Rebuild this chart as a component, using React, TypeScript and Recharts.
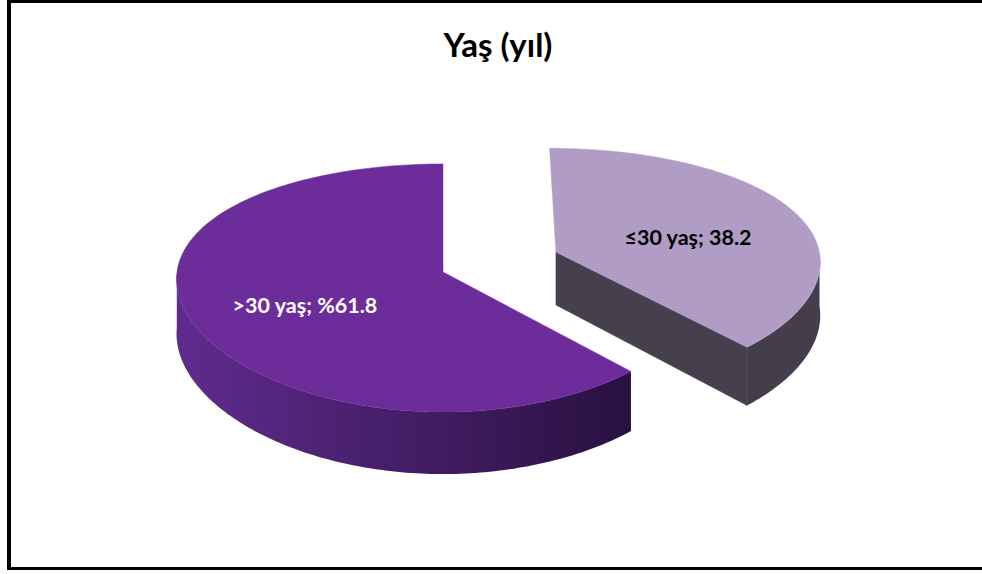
import React from 'react';
import { PieChart, Pie, Cell } from 'recharts';

// Age groups and their shares
const categories = ['≤30 yaş', '>30 yaş'];
const shares = [38.2, 61.8];
const valuePrefixes = ['', '%'];

const data = categories.map((name, i) => ({ name, value: shares[i] }));

// Colours per slice
const topColors = ['#B09CC4', '#6C2D9B'];
const wallStops = [
  ['#4C4655', '#443E4C'],
  ['#602B8E', '#291140'],
];
const cutColors = ['#46404E', '#3A1A55'];
const labelColors = ['#000000', '#FFFFFF'];
const explode = [0.46, 0];

// Pseudo-3D projection settings (fractions of the outer radius)
const RY_RATIO = 0.4586;
const DEPTH_RATIO = 0.203;
const KX = 0.06;
const KY = 0.129;

const RAD = Math.PI / 180;

type Pt = [number, number];

function makeProjector(cx: number, cy: number, R: number, midAngle: number, index: number) {
  const e = explode[index] || 0;
  const eu = e * Math.cos(midAngle * RAD);
  const ev = e * Math.sin(midAngle * RAD);
  return (angleDeg: number, r: number, h: number): Pt => {
    const u = eu + r * Math.cos(angleDeg * RAD);
    const v = ev + r * Math.sin(angleDeg * RAD);
    const fx = 1 / (1 + KX * v);
    const fy = 1 / (1 + KY * v);
    return [cx + R * u * fx, cy - R * RY_RATIO * v * fy + h * R * DEPTH_RATIO * fy];
  };
}

const toPath = (pts: Pt[]) =>
  pts.map((p, i) => `${i === 0 ? 'M' : 'L'}${p[0].toFixed(2)},${p[1].toFixed(2)}`).join(' ') + ' Z';

function Slice3D(props: any) {
  const { cx, cy, outerRadius, startAngle, endAngle, index } = props;
  const R = outerRadius;
  const lo = Math.min(startAngle, endAngle);
  const hi = Math.max(startAngle, endAngle);
  const mid = (lo + hi) / 2;
  const P = makeProjector(cx, cy, R, mid, index);

  // sampled angles along the rim
  const n = Math.max(8, Math.ceil((hi - lo) / 1));
  const angles: number[] = [];
  for (let i = 0; i <= n; i++) angles.push(hi - ((hi - lo) * i) / n);

  // top face
  const top: Pt[] = [P(0, 0, 0), ...angles.map((a) => P(a, 1, 0))];

  // front-facing runs of the outer wall
  const runs: number[][] = [];
  let cur: number[] = [];
  angles.forEach((a) => {
    if (Math.sin(a * RAD) <= 1e-9) cur.push(a);
    else {
      if (cur.length > 1) runs.push(cur);
      cur = [];
    }
  });
  if (cur.length > 1) runs.push(cur);

  const gradId = `pie-wall-${index}`;
  const stops = wallStops[index];

  const cutFaces: Pt[][] = [];
  if (Math.cos(hi * RAD) < -1e-6) cutFaces.push([P(0, 0, 0), P(hi, 1, 0), P(hi, 1, 1), P(0, 0, 1)]);
  if (Math.cos(lo * RAD) > 1e-6) cutFaces.push([P(0, 0, 0), P(lo, 1, 0), P(lo, 1, 1), P(0, 0, 1)]);

  return (
    <g>
      <defs>
        <linearGradient id={gradId} gradientUnits="userSpaceOnUse" x1={cx - R} y1={0} x2={cx + R * 0.7} y2={0}>
          <stop offset="0%" stopColor={stops[0]} />
          <stop offset="100%" stopColor={stops[1]} />
        </linearGradient>
      </defs>
      {cutFaces.map((f, i) => (
        <path key={`cut-${i}`} d={toPath(f)} fill={cutColors[index]} stroke={cutColors[index]} strokeWidth={0.5} />
      ))}
      {runs.map((run, i) => {
        const pts = [...run.map((a) => P(a, 1, 0)), ...run.slice().reverse().map((a) => P(a, 1, 1))];
        return <path key={`wall-${i}`} d={toPath(pts)} fill={`url(#${gradId})`} stroke="none" />;
      })}
      <path d={toPath(top)} fill={topColors[index]} stroke={topColors[index]} strokeWidth={0.5} />
    </g>
  );
}

function SliceLabel(props: any) {
  const { cx, cy, outerRadius, midAngle, index } = props;
  const P = makeProjector(cx, cy, outerRadius, midAngle, index);
  const [x, y] = P(midAngle, 0.55, 0.15);
  return (
    <text
      x={x}
      y={y}
      textAnchor="middle"
      dominantBaseline="central"
      fill={labelColors[index]}
      fontFamily="Lato, 'Open Sans', sans-serif"
      fontWeight={700}
      fontSize={21.5}
    >
      {`${categories[index]}; ${valuePrefixes[index]}${shares[index]}`}
    </text>
  );
}

export default function App() {
  return (
    <div style={{ position: 'absolute', left: 0, top: 0, width: 982, height: 574, background: '#fff', overflow: 'hidden' }}>
      <div
        style={{
          position: 'absolute',
          left: 7,
          top: 0,
          width: 1000,
          height: 570,
          boxSizing: 'border-box',
          borderTop: '3px solid #000',
          borderBottom: '3px solid #000',
          borderLeft: '4px solid #000',
        }}
      />
      <div
        style={{
          position: 'absolute',
          left: 0,
          width: 996,
          top: 24,
          lineHeight: '40px',
          textAlign: 'center',
          fontFamily: "Lato, 'Open Sans', sans-serif",
          fontWeight: 700,
          fontSize: 33,
          color: '#000',
        }}
      >
        Yaş (yıl)
      </div>
      <div style={{ position: 'absolute', left: 0, top: 0 }}>
        <PieChart width={982} height={574} margin={{ top: 0, right: 0, bottom: 0, left: 0 }}>
          <Pie
            data={data}
            dataKey="value"
            nameKey="name"
            cx={443}
            cy={272}
            outerRadius={266}
            startAngle={90}
            endAngle={-270}
            stroke="none"
            isAnimationActive={false}
            shape={Slice3D}
            label={SliceLabel}
            labelLine={false}
          >
            {data.map((d, i) => (
              <Cell key={d.name} fill={topColors[i]} />
            ))}
          </Pie>
        </PieChart>
      </div>
    </div>
  );
}
